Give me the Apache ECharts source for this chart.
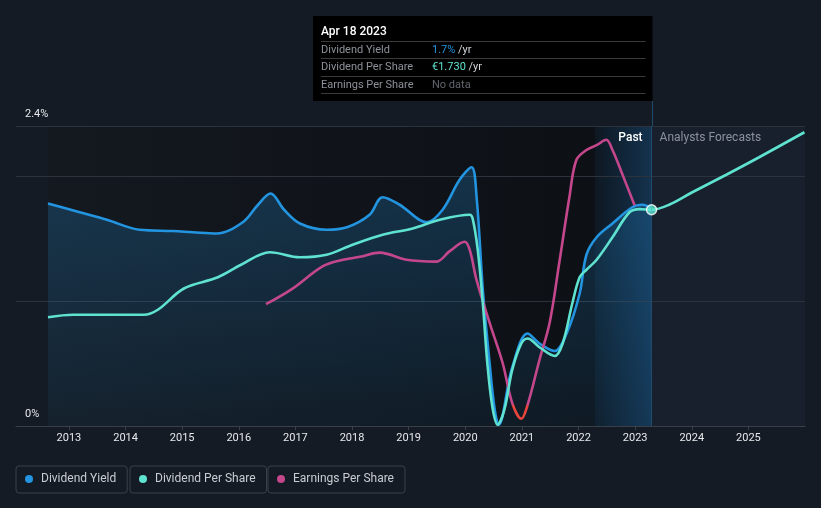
<!DOCTYPE html>
<html><head><meta charset="utf-8">
<script src="https://cdn.jsdelivr.net/npm/echarts@6/dist/echarts.min.js"></script>
<style>html,body{margin:0;padding:0;background:#151b25;}#c{width:821px;height:508px;}</style>
</head><body><div id="c"></div>
<script>
// ---- data ----
const xTicks = [2013,2014,2015,2016,2017,2018,2019,2020,2021,2022,2023,2024,2025];
const yTickLabels = [0, 2.4];
const nowYear = 2023.29;
const nowLabel = 'Apr 18 2023';

const yieldYears = [2012.63,2013.19,2013.67,2014.25,2014.84,2015.19,2015.61,2016.07,2016.34,2016.56,2016.80,2017.08,2017.55,2017.91,2018.31,2018.54,2018.84,2019.32,2019.60,2019.90,2020.11,2020.20,2020.31,2020.43,2020.52,2020.59,2020.83,2021.10,2021.31,2021.58,2021.79,2022.02,2022.14,2022.32,2022.60,2022.95,2023.13,2023.29];
const yieldValues = [1.78,1.71,1.65,1.57,1.56,1.55,1.54,1.63,1.77,1.86,1.73,1.62,1.57,1.59,1.69,1.83,1.77,1.63,1.73,1.97,2.07,1.83,1.09,0.50,0.13,0.01,0.47,0.74,0.66,0.60,0.74,1.06,1.37,1.51,1.62,1.75,1.77,1.74];

const dpsYears = [2012.63,2013.07,2014.32,2014.57,2015.03,2015.63,2016.04,2016.55,2017.08,2017.55,2018.01,2018.54,2019.07,2019.55,2020.08,2020.13,2020.22,2020.31,2020.39,2020.48,2020.57,2020.69,2020.83,2020.99,2021.10,2021.31,2021.58,2021.72,2021.89,2022.02,2022.14,2022.32,2022.60,2022.90,2023.08,2023.29,2023.60,2024.01,2024.61,2025.19,2025.99];
const dpsValues = [0.87,0.89,0.89,0.93,1.10,1.19,1.29,1.39,1.35,1.37,1.45,1.53,1.58,1.65,1.69,1.66,1.41,0.98,0.50,0.15,0.01,0.13,0.45,0.66,0.70,0.63,0.56,0.66,0.98,1.19,1.25,1.33,1.51,1.71,1.735,1.73,1.77,1.87,2.01,2.15,2.35];

const epsYears = [2016.48,2016.95,2017.48,2017.84,2018.14,2018.49,2018.96,2019.49,2019.72,2019.99,2020.08,2020.20,2020.43,2020.66,2020.83,2020.99,2021.10,2021.31,2021.49,2021.66,2021.84,2021.96,2022.14,2022.32,2022.49,2022.60,2022.76,2022.99];
const epsValues = [1.68,1.94,2.31,2.42,2.47,2.54,2.42,2.39,2.56,2.72,2.58,2.08,1.37,0.70,0.03,-0.23,0.00,0.75,1.37,2.37,3.47,4.08,4.25,4.33,4.42,4.25,3.88,3.33];

// ---- colours ----
const C_YIELD = '#2394df', C_DPS = '#5fe3d0', C_EPS = '#c4478c', C_NEG = '#e8453c';

const zip = (xs, ys) => xs.map((x, i) => [x, ys[i]]);
const yieldData = zip(yieldYears, yieldValues);
const dpsData = zip(dpsYears, dpsValues);
const epsData = zip(epsYears, epsValues);
const nowDps = dpsValues[dpsYears.indexOf(nowYear)];
const nowYield = yieldValues[yieldYears.indexOf(nowYear)];

const chart = echarts.init(document.getElementById('c'));
const FONT = 'Roboto, "Noto Sans", sans-serif';
const SMOOTH = 0.35;

function legendBox(name, color, left) {
  return {
    data: [{ name: name, itemStyle: { color: color } }],
    left: left, top: 466, orient: 'horizontal',
    icon: 'circle', itemWidth: 14, itemHeight: 8,
    padding: [7, 11, 8, 9],
    borderColor: '#3b414b', borderWidth: 1, borderRadius: 3,
    selectedMode: false,
    textStyle: { color: '#c9ccd2', fontSize: 12, fontFamily: FONT }
  };
}

const option = {
  backgroundColor: '#151b25',
  animation: false,
  textStyle: { fontFamily: FONT },
  grid: { left: 16, right: 16, top: 126, bottom: 82, containLabel: false },
  legend: [
    legendBox('Dividend Yield', C_YIELD, 16),
    legendBox('Dividend Per Share', C_DPS, 130),
    legendBox('Earnings Per Share', C_EPS, 268)
  ],
  xAxis: {
    type: 'value', min: 2012.065, max: 2026.0, z: 1,
    axisLine: { show: true, lineStyle: { color: '#3a404a', width: 1 } },
    axisTick: { show: true, length: 4, customValues: xTicks, lineStyle: { color: '#3a404a' } },
    axisLabel: { customValues: xTicks, color: '#e6e8eb', fontSize: 11, margin: 7, formatter: v => String(v) },
    splitLine: { show: false }
  },
  yAxis: [
    {
      type: 'value', min: 0, max: 2.4, interval: 1, z: 1,
      axisLine: { show: false }, axisTick: { show: false },
      splitLine: { show: true, lineStyle: { color: '#2d333d', width: 1 } },
      axisLabel: {
        inside: true, margin: 9, color: '#e6e8eb', fontSize: 11,
        verticalAlign: 'bottom', lineHeight: 24,
        formatter: v => {
          const hit = yTickLabels.find(t => Math.abs(t - v) < 1e-6);
          return hit === undefined ? '' : (hit === 0 ? '0%' : hit + '%');
        }
      }
    },
    { type: 'value', min: -0.35, max: 4.65, show: false },
    { type: 'value', min: 0, max: 2.4, show: false }
  ],
  series: [
    {
      name: 'Dividend Yield', type: 'line', yAxisIndex: 0, z: 3,
      data: yieldData, smooth: SMOOTH, showSymbol: false,
      lineStyle: { color: C_YIELD, width: 2.6 }, itemStyle: { color: C_YIELD },
      areaStyle: { color: { type: 'linear', x: 0, y: 0, x2: 0, y2: 1, colorStops: [{ offset: 0, color: 'rgba(35,148,223,0.36)' }, { offset: 1, color: 'rgba(35,148,223,0.10)' }] } },
      markArea: {
        silent: true, z: 0,
        data: [
          [{ xAxis: yieldYears[0], itemStyle: { color: { type: 'linear', x: 0, y: 0, x2: 1, y2: 0, colorStops: [{ offset: 0, color: '#141920' }, { offset: 1, color: '#0d1015' }] } } }, { xAxis: nowYear - 1 }],
          [{ xAxis: nowYear - 1, name: 'Past',
             itemStyle: { color: { type: 'linear', x: 0, y: 0, x2: 1, y2: 0, colorStops: [{ offset: 0, color: '#0e1822' }, { offset: 1, color: '#14324e' }] } },
             label: { show: true, position: 'insideTopRight', distance: 0, padding: [6, 9, 0, 0], color: '#ffffff', fontSize: 12, fontWeight: 500 } },
           { xAxis: nowYear }],
          [{ xAxis: nowYear, name: 'Analysts Forecasts',
             itemStyle: { color: '#18202d' },
             label: { show: true, position: 'insideTopLeft', distance: 0, padding: [6, 0, 0, 8], color: '#8b929c', fontSize: 12 } },
           { xAxis: 2026.0 }]
        ]
      },
      markLine: {
        silent: true, symbol: 'none', label: { show: false },
        lineStyle: { color: '#1f4b6c', width: 1, type: 'solid' },
        data: [{ xAxis: nowYear }]
      }
    },
    {
      name: 'Dividend Per Share', type: 'line', yAxisIndex: 2, z: 4,
      data: dpsData, smooth: SMOOTH, showSymbol: false,
      lineStyle: { color: C_DPS, width: 2.6 }, itemStyle: { color: C_DPS }
    },
    {
      name: 'Earnings Per Share', type: 'line', yAxisIndex: 1, z: 3,
      data: epsData, smooth: SMOOTH, showSymbol: false,
      lineStyle: { color: C_EPS, width: 2.6 }, itemStyle: { color: C_EPS }
    },
    {
      name: 'now', type: 'scatter', yAxisIndex: 2, z: 6,
      data: [[nowYear, nowDps]], symbol: 'circle', symbolSize: 10,
      itemStyle: { color: C_DPS, borderColor: '#ffffff', borderWidth: 1.5 }
    }
  ]
};
chart.setOption(option);

// negative EPS in red: gradient split at the EPS zero line
const zeroY = chart.convertToPixel({ yAxisIndex: 1 }, 0);
const nowX = chart.convertToPixel({ xAxisIndex: 0 }, nowYear);
const boxRight = Math.round(nowX) + 0.5;
const boxLeft = 313, boxTop = 16, boxBottom = 101;
const rowX = boxLeft + 8, valX = boxLeft + 119;
function sep(y) { return { type: 'line', z: 20, shape: { x1: rowX, y1: y, x2: boxRight - 7, y2: y }, style: { stroke: '#3a3a3a', lineWidth: 1 } }; }
function txt(x, y, style) { return { type: 'text', z: 21, x: x, y: y, style: Object.assign({ fontFamily: FONT, fontSize: 11, verticalAlign: 'middle' }, style) }; }
chart.setOption({
  series: [{}, {}, {
    lineStyle: { color: { type: 'linear', global: true, x: 0, y: zeroY - 1, x2: 0, y2: zeroY + 1,
      colorStops: [{ offset: 0, color: C_EPS }, { offset: 0.5, color: C_EPS }, { offset: 0.5, color: C_NEG }, { offset: 1, color: C_NEG }] } }
  }],
  graphic: [
    { type: 'line', z: 19, shape: { x1: boxRight, y1: boxBottom, x2: boxRight, y2: 126 }, style: { stroke: '#1f4b6c', lineWidth: 1 } },
    { type: 'rect', z: 19, shape: { x: boxLeft, y: boxTop, width: boxRight - boxLeft, height: boxBottom - boxTop }, style: { fill: '#000000' } },
    txt(rowX, 32, { text: nowLabel, fill: '#ffffff', fontSize: 12, fontWeight: 500 }),
    sep(41.5),
    txt(rowX, 50.5, { text: 'Dividend Yield', fill: '#8d9299' }),
    txt(valX, 50.5, { text: '{a|' + nowYield.toFixed(1) + '%} {b|/yr}', rich: { a: { fill: C_YIELD, fontSize: 11, fontFamily: FONT }, b: { fill: '#d4d6d9', fontSize: 11, fontFamily: FONT } } }),
    sep(58.5),
    txt(rowX, 67.5, { text: 'Dividend Per Share', fill: '#8d9299' }),
    txt(valX, 67.5, { text: '{a|€' + nowDps.toFixed(3) + '} {b|/yr}', rich: { a: { fill: C_DPS, fontSize: 11, fontFamily: FONT }, b: { fill: '#d4d6d9', fontSize: 11, fontFamily: FONT } } }),
    sep(76.5),
    txt(rowX, 85, { text: 'Earnings Per Share', fill: '#8d9299' }),
    txt(valX, 85, { text: 'No data', fill: '#61666d' }),
    sep(93.5)
  ]
});
</script></body></html>
